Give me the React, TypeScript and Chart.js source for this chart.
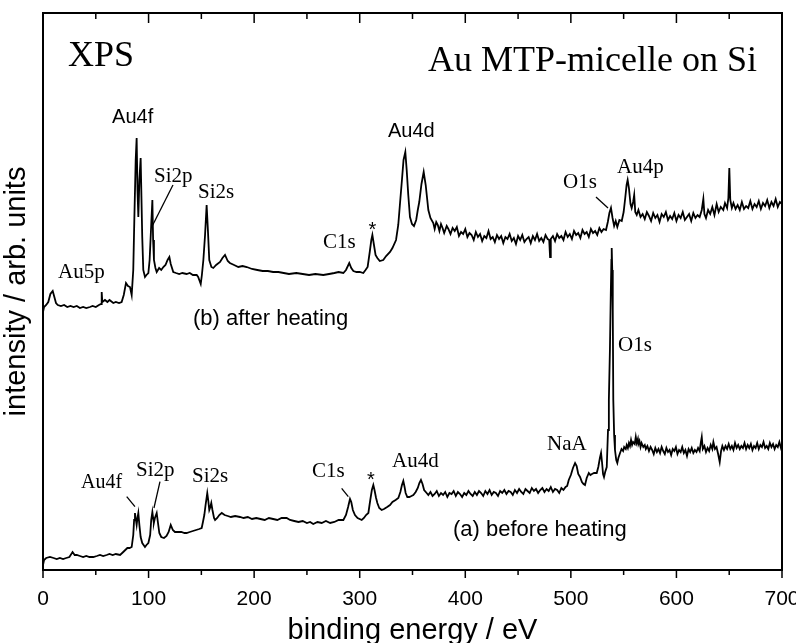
import React, { useEffect, useRef } from "react";
import { Chart, registerables } from "chart.js";

Chart.register(...registerables);

// x: binding energy (eV), y: intensity (arb. units)
const afterHeating: [number, number][] = [
  [0, 258], [1, 263], [3, 265], [5, 268], [7, 276], [9.2, 279], [10.5, 274], [12.3, 267], [14, 265], [17, 264],
  [20, 265], [23, 263], [26, 264], [29, 263], [32, 264], [35, 262], [38, 263], [41, 262], [44.5, 263], [47, 264],
  [50, 263], [53, 265], [55, 266], [55.6, 278], [56.2, 268], [58.7, 270], [61, 268], [63, 270], [66.6, 267], [69, 268],
  [72, 267], [74.5, 268], [76.5, 275], [78.6, 287], [80.5, 284], [82.4, 283], [84, 275], [85.5, 300], [86.5, 350], [87.8, 410],
  [88.7, 432], [89.5, 380], [90.3, 353], [91.3, 390], [92.5, 412], [93.3, 370], [94, 333], [95, 300], [96.6, 293], [98, 295],
  [99.8, 297], [101, 310], [102.5, 345], [103.6, 370], [104.3, 330], [105.1, 310], [106.5, 302], [107.7, 298], [110, 302], [112, 300],
  [114, 303], [116, 305], [118, 310], [119.7, 313], [121, 306], [123.4, 298], [126, 297], [129, 296], [132, 297], [136, 296],
  [139, 297], [142, 295], [145.6, 295], [147, 293], [149.4, 286], [150.5, 295], [151.9, 310], [153.5, 335], [155, 365], [156.2, 340],
  [157.5, 310], [159.5, 303], [161.3, 302], [164, 305], [167.7, 308], [170, 312], [172.4, 315], [175, 309], [177, 307], [181, 305],
  [185, 303], [189, 304], [193, 303], [198, 301], [203, 300], [208, 299], [213, 299], [218, 298], [223, 298], [228, 297],
  [233, 296], [240, 297], [246, 296], [252, 295], [258, 296], [265.5, 295], [271, 296], [276, 297], [280, 298], [284.5, 297],
  [287, 300], [290.1, 307], [292, 302], [294, 299], [297, 298], [300, 298], [303.4, 297], [305.5, 300], [307.5, 303], [309.5, 318],
  [311, 330], [312, 335], [313.5, 325], [315, 315], [316.7, 312], [319, 309], [322.3, 310], [325, 314], [328.7, 318], [331, 322],
  [334.4, 330], [336.5, 345], [338.2, 367], [340, 390], [341.5, 410], [343.2, 418], [344.5, 400], [346, 375], [347.6, 353], [349.5, 346],
  [351.4, 344], [353.5, 350], [355, 360], [356.4, 368], [358.5, 386], [360.6, 398], [362.5, 385], [365, 360], [367, 352], [369.7, 347],
  [371, 341], [372.5, 348], [374, 345], [375.5, 339], [377, 346], [378.5, 342], [380, 337], [382.4, 344], [384, 341], [386, 336],
  [388, 342], [390, 339], [392, 343], [394, 334], [396, 338], [398, 336], [400, 341], [402, 333], [404, 337], [406, 335],
  [408, 330], [410, 338], [412, 333], [414, 336], [416, 329], [418, 334], [420, 332], [422, 339], [424, 331], [426, 333],
  [428, 328], [430, 335], [432, 331], [434, 334], [436, 327], [438, 333], [440, 331], [442, 336], [444, 329], [446, 332],
  [448, 326], [450, 334], [452, 330], [454, 335], [456, 328], [458, 331], [460, 333], [462, 327], [464, 334], [466, 330],
  [468, 336], [470, 329], [472, 332], [474, 328], [476, 335], [478, 331], [479.5, 330], [480.3, 313], [481, 331], [483, 334],
  [485, 329], [487, 336], [489, 332], [491, 334], [493, 330], [495, 338], [497, 333], [499, 336], [501, 331], [503, 339],
  [505, 335], [507, 337], [509, 332], [511, 340], [513, 336], [515, 338], [517, 333], [519, 341], [521, 337], [523, 339],
  [525, 335], [527, 342], [529, 338], [531, 341], [533.3, 340], [535, 348], [536.5, 357], [538, 362], [539.5, 352], [541, 344],
  [542.5, 349], [544, 343], [546, 350], [548.2, 349], [550, 358], [551.5, 372], [552.8, 385], [553.8, 390], [555, 382], [556.5, 366],
  [557.6, 362], [559, 368], [560, 375], [561, 358], [562.4, 355], [564, 360], [566, 353], [568, 356], [570, 351], [572, 358],
  [574, 354], [576, 349], [578, 357], [580, 352], [582, 355], [584, 348], [586, 356], [588, 353], [590, 358], [592, 350],
  [594, 354], [596, 351], [598, 357], [600, 349], [602, 355], [604, 352], [606, 358], [608, 350], [610, 353], [612, 356],
  [614, 349], [616, 357], [618, 352], [620, 355], [622, 353], [624, 360], [625.5, 371], [626.5, 356], [628, 352], [630, 360],
  [632, 356], [634, 363], [636, 355], [638.1, 366], [640, 358], [642, 363], [644.4, 360], [646, 367], [648, 362], [649.2, 372],
  [650.1, 402], [651, 370], [652.5, 362], [654, 367], [656, 361], [658, 365], [660, 360], [662, 368], [664, 361], [666, 364],
  [668, 362], [670, 369], [672, 361], [674, 366], [676, 363], [678, 369], [680, 361], [682, 367], [684, 364], [686, 370],
  [688, 362], [690, 368], [692, 364], [694, 371], [696, 363], [698, 368], [700, 366],
];

const beforeHeating: [number, number][] = [
  [0, 5], [1, 10], [3, 12], [6.6, 13], [10, 12], [13, 11], [16, 12], [19, 11], [22, 12], [25, 13],
  [28, 18], [30, 15], [32, 15], [35, 14], [38, 13], [41, 14], [44, 13], [47.7, 13], [51, 14], [54, 15],
  [57, 14], [60.3, 15], [63, 16], [66, 15], [69, 16], [73, 15], [76, 18], [79.9, 22], [82, 22], [84, 23],
  [85.5, 35], [86.3, 50], [87.1, 57], [88, 50], [88.7, 45], [89.5, 52], [90.3, 57], [91.3, 45], [92.5, 33], [94, 27],
  [96.6, 23], [98, 25], [99.8, 27], [101.5, 35], [102.5, 50], [103.6, 58], [104.3, 52], [105, 47], [106, 52], [107.7, 57],
  [108.8, 48], [110.2, 37], [112, 33], [114.6, 32], [117, 34], [119, 38], [121, 45], [123, 40], [125, 38], [128, 38],
  [131, 38], [134, 37], [136, 37], [139, 38], [142, 39], [145, 40], [148, 41], [150.3, 42], [151.5, 48], [152.8, 55],
  [154, 65], [155.6, 77], [156.5, 70], [157.5, 60], [158.5, 63], [159.4, 67], [160.5, 60], [162, 52], [163, 50], [165, 52],
  [167, 55], [169.3, 57], [172, 55], [175, 54], [178, 53], [182, 54], [186.6, 53], [190, 52], [194, 53], [198, 51],
  [202, 52], [206, 51], [210, 50], [214, 52], [218, 51], [222, 50], [226, 52], [230.8, 52], [234, 50], [238, 49],
  [242, 48], [246, 49], [250, 47], [253, 48], [256, 46], [260, 48], [264, 47], [268, 49], [272, 47], [276, 48],
  [280, 50], [284.5, 50], [287, 55], [289, 63], [290.8, 71], [292, 68], [293.5, 60], [295.5, 55], [298, 52], [301.9, 50],
  [304, 52], [306, 55], [308.2, 57], [310, 70], [311.5, 80], [312.9, 85], [314, 80], [315.5, 72], [316.7, 67], [318.5, 62],
  [320.8, 60], [323, 61], [326, 63], [328.7, 65], [331, 68], [334, 70], [336.6, 72], [338.5, 78], [340, 85], [341.3, 89],
  [342.5, 83], [343.5, 77], [345.1, 73], [347, 73], [349, 74], [350.8, 75], [353, 78], [355, 82], [356.5, 87], [358, 90],
  [359.5, 86], [361, 80], [363.4, 77], [365, 75], [367, 78], [369, 74], [371, 76], [373, 79], [375, 74], [377, 77],
  [379, 75], [381, 78], [383, 73], [385, 77], [387, 76], [389, 79], [391, 74], [393, 78], [395, 76], [397, 73],
  [399, 77], [401, 75], [403, 79], [405, 76], [407, 74], [409, 78], [411, 75], [413, 79], [415, 77], [417, 74],
  [419, 79], [421, 76], [423, 80], [425, 75], [427, 78], [429, 77], [431, 74], [433, 79], [435, 77], [437, 80],
  [439, 76], [441, 79], [443, 78], [445, 75], [447, 80], [449, 77], [451, 81], [453, 78], [455, 76], [457, 81],
  [459, 79], [461, 77], [463, 82], [465, 79], [467, 81], [469, 77], [471, 80], [473, 82], [475, 78], [477, 81],
  [479, 79], [481, 83], [483, 78], [485, 81], [487, 80], [489, 77], [491, 82], [493, 80], [495, 83], [496.5, 84],
  [498, 90], [500, 95], [502, 102], [504, 107], [505.5, 104], [507, 96], [508.7, 93], [510.5, 88], [512, 86], [513.4, 85],
  [515, 92], [517, 97], [518.5, 95], [520, 96], [522, 97], [524.5, 97], [526, 103], [527.5, 112], [528.6, 117], [529.5, 108],
  [530.5, 96], [531.4, 93], [532.5, 98], [534, 103], [535.2, 140], [536, 170], [537, 220], [537.8, 275], [538.4, 310], [538.7, 322],
  [539.2, 300], [539.7, 260], [540.2, 170], [541, 135], [541.8, 120], [543, 110], [544, 107], [545, 112], [546.6, 117], [548, 121],
  [549.5, 119], [550.5, 123], [552, 121], [552.9, 125], [554, 122], [555, 127], [556, 124], [557, 130], [558, 125], [559, 128],
  [560.5, 126], [561.5, 133], [562.4, 127], [563.5, 131], [564, 126], [565, 129], [566, 123], [567, 127], [568.6, 123], [570, 125],
  [571, 121], [572.5, 124], [574, 119], [575.5, 123], [577, 120], [578.5, 116], [580, 122], [581.5, 118], [583, 121], [584.5, 117],
  [586, 123], [587.5, 119], [589, 116], [590.5, 122], [592, 118], [593.5, 120], [595, 115], [596.5, 121], [598, 119], [599.5, 123],
  [601, 116], [602.5, 120], [604, 118], [605.5, 123], [607, 117], [608.5, 120], [610, 114], [611.5, 121], [613, 118], [614.5, 122],
  [616, 117], [617.5, 120], [619, 118], [620.5, 122], [622, 119], [623.2, 128], [624, 133], [625, 121], [626.5, 124], [628, 118],
  [629.5, 122], [631, 119], [632.5, 125], [634, 121], [635, 128], [636.5, 121], [638, 123], [639.5, 116], [641, 108], [642.3, 119],
  [643.5, 124], [645, 120], [646.5, 124], [648, 121], [649.5, 126], [651, 121], [652.5, 124], [654, 120], [655.5, 127], [657, 122],
  [658.5, 125], [660, 121], [661.5, 124], [663, 122], [664.5, 127], [666, 121], [667.5, 125], [669, 122], [670.5, 126], [672, 120],
  [673.5, 124], [675, 122], [676.5, 127], [678, 121], [679.5, 125], [681, 123], [682.5, 128], [684, 122], [685.5, 124], [687, 121],
  [688.5, 127], [690, 123], [691.5, 126], [693, 121], [694.5, 125], [696, 123], [697.5, 128], [699, 122], [700, 125],
];

const majorTicks = [0, 100, 200, 300, 400, 500, 600, 700];
const minorTicks = [50, 150, 250, 350, 450, 550, 650];

const SERIF = '"Liberation Serif", "Times New Roman", serif';
const SANS = '"Liberation Sans", Arial, sans-serif';

type Label = { text: string; x: number; y: number; size: number; family: string; align?: CanvasTextAlign };
const peakLabels: Label[] = [
  { text: "XPS", x: 23.7, y: 504, size: 36, family: SERIF },
  { text: "Au MTP-micelle on Si", x: 676.3, y: 499, size: 36, family: SERIF, align: "right" },
  { text: "Au4f", x: 65.4, y: 447, size: 20, family: SANS },
  { text: "Si2p", x: 105.1, y: 388, size: 21, family: SERIF },
  { text: "Si2s", x: 146.8, y: 372, size: 21, family: SERIF },
  { text: "Au5p", x: 14.2, y: 292, size: 21, family: SERIF },
  { text: "C1s", x: 265.2, y: 322, size: 21, family: SERIF },
  { text: "*", x: 312.1, y: 334, size: 20, family: SANS, align: "center" },
  { text: "Au4d", x: 326.8, y: 433, size: 20, family: SANS },
  { text: "O1s", x: 492.6, y: 382, size: 21, family: SERIF },
  { text: "Au4p", x: 543.7, y: 397, size: 21, family: SERIF },
  { text: "(b) after heating", x: 142.1, y: 245, size: 22, family: SANS },
  { text: "Au4f", x: 36, y: 82, size: 20, family: SERIF },
  { text: "Si2p", x: 88.1, y: 94, size: 21, family: SERIF },
  { text: "Si2s", x: 141.1, y: 88, size: 21, family: SERIF },
  { text: "C1s", x: 254.8, y: 93, size: 21, family: SERIF },
  { text: "*", x: 310.7, y: 84, size: 20, family: SANS, align: "center" },
  { text: "Au4d", x: 330.6, y: 103, size: 21, family: SERIF },
  { text: "NaA", x: 477.4, y: 120, size: 21, family: SERIF },
  { text: "O1s", x: 544.7, y: 219, size: 21, family: SERIF },
  { text: "(a) before heating", x: 388.4, y: 34, size: 22, family: SANS },
];

const leaderLines: [number, number, number, number][] = [
  [123.1, 385, 103, 343],
  [523.8, 373, 535.2, 362],
  [79.3, 73.3, 87.1, 63.3],
  [110.8, 88.3, 105.1, 62],
  [282.9, 81.7, 289.2, 73.3],
];

const decor = {
  id: "decor",
  afterDatasetsDraw(chart: any) {
    const { ctx, chartArea: a, scales } = chart;
    const x = scales.x;
    const y = scales.y;
    ctx.save();
    ctx.strokeStyle = "#000";
    ctx.fillStyle = "#000";
    ctx.lineWidth = 2;
    ctx.strokeRect(a.left, a.top, a.right - a.left, a.bottom - a.top);
    ctx.lineWidth = 1.5;
    const tick = (v: number, down: number, up: number) => {
      const px = x.getPixelForValue(v);
      ctx.beginPath();
      ctx.moveTo(px, a.bottom);
      ctx.lineTo(px, a.bottom + down);
      ctx.moveTo(px, a.top);
      ctx.lineTo(px, a.top + up);
      ctx.stroke();
    };
    majorTicks.forEach((v) => tick(v, 8, 10));
    minorTicks.forEach((v) => tick(v, 5, 6));

    ctx.lineWidth = 1.3;
    leaderLines.forEach(([x1, y1, x2, y2]) => {
      ctx.beginPath();
      ctx.moveTo(x.getPixelForValue(x1), y.getPixelForValue(y1));
      ctx.lineTo(x.getPixelForValue(x2), y.getPixelForValue(y2));
      ctx.stroke();
    });

    ctx.textBaseline = "alphabetic";
    peakLabels.forEach((l) => {
      ctx.font = `${l.size}px ${l.family}`;
      ctx.textAlign = l.align || "left";
      ctx.fillText(l.text, x.getPixelForValue(l.x), y.getPixelForValue(l.y));
    });
    ctx.restore();
  },
};

export default function App() {
  const ref = useRef<HTMLCanvasElement | null>(null);
  useEffect(() => {
    if (!ref.current) return;
    const chart = new Chart(ref.current, {
      type: "line",
      data: {
        datasets: [
          {
            label: "(b) after heating",
            data: afterHeating.map(([e, i]) => ({ x: e, y: i })),
            borderColor: "#000",
            borderWidth: 1.8,
            pointRadius: 0,
            tension: 0,
          },
          {
            label: "(a) before heating",
            data: beforeHeating.map(([e, i]) => ({ x: e, y: i })),
            borderColor: "#000",
            borderWidth: 1.8,
            pointRadius: 0,
            tension: 0,
          },
        ],
      },
      options: {
        animation: false,
        responsive: false,
        layout: { autoPadding: false, padding: { left: 0, top: 13, right: 14, bottom: 0 } },
        plugins: { legend: { display: false }, tooltip: { enabled: false } },
        scales: {
          x: {
            type: "linear",
            min: 0,
            max: 700,
            afterFit: (s: any) => {
              s.height = 73;
              s.paddingLeft = 0;
              s.paddingRight = 0;
            },
            grid: { display: false, drawTicks: false },
            border: { display: false },
            ticks: {
              stepSize: 100,
              autoSkip: false,
              maxRotation: 0,
              padding: 17,
              color: "#000",
              font: { family: SANS, size: 21 },
            },
            title: {
              display: true,
              text: "binding energy / eV",
              color: "#000",
              font: { family: SANS, size: 29, lineHeight: 0.8 },
              padding: { top: 0, bottom: 0 },
            },
          },
          y: {
            type: "linear",
            min: 0,
            max: 557,
            afterFit: (s: any) => {
              s.width = 43;
            },
            grid: { display: false, drawTicks: false },
            border: { display: false },
            ticks: { display: false },
            title: {
              display: true,
              text: "intensity / arb. units",
              color: "#000",
              font: { family: SANS, size: 29, lineHeight: 1.2 },
              padding: { top: 0, bottom: 0 },
            },
          },
        },
      },
      plugins: [decor],
    });
    return () => chart.destroy();
  }, []);
  return (
    <div style={{ position: "absolute", left: 0, top: 0, width: 796, height: 643, background: "#fff" }}>
      <canvas ref={ref} width={796} height={643} />
    </div>
  );
}
